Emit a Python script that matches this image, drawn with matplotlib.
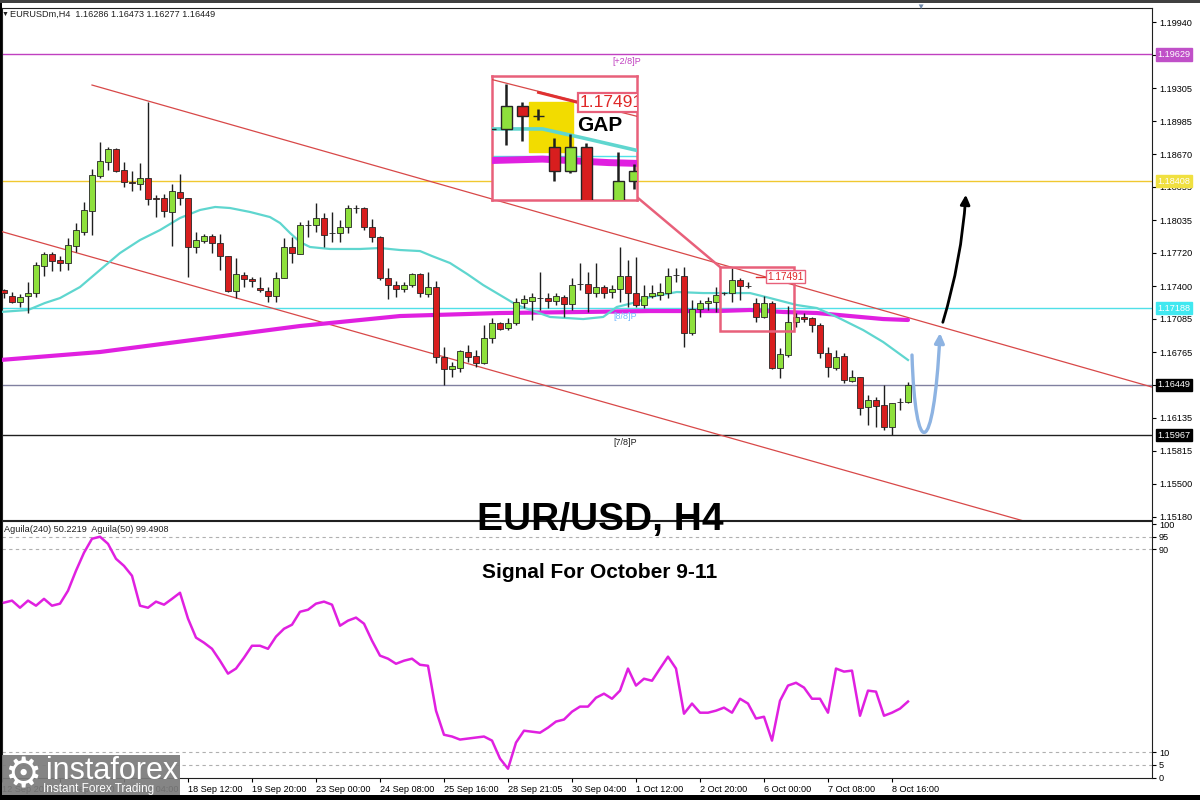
import matplotlib
matplotlib.use('Agg')
import matplotlib.pyplot as plt
from matplotlib.patches import Rectangle, FancyArrowPatch
from matplotlib.path import Path
import numpy as np

plt.rcParams['font.family'] = ['Liberation Sans', 'DejaVu Sans']

# ---------------- data (EURUSD H4 candles) ----------------
opens = [1.17362, 1.17305, 1.17247, 1.17305, 1.17333, 1.17593, 1.17709, 1.17651, 1.17622, 1.17786,
         1.17920, 1.18122, 1.18459, 1.18594, 1.18719, 1.18517, 1.18401, 1.18382, 1.18440, 1.18247,
         1.18247, 1.18113, 1.18305, 1.18247, 1.17776, 1.17834, 1.17882, 1.17814, 1.17689, 1.17353,
         1.17507, 1.17468, 1.17381, 1.17353, 1.17305, 1.17478, 1.17776, 1.17709, 1.17985, 1.17988,
         1.18055, 1.17914, 1.17911, 1.17968, 1.18151, 1.18151, 1.17968, 1.17872, 1.17478, 1.17410,
         1.17372, 1.17410, 1.17516, 1.17324, 1.17391, 1.16718, 1.16602, 1.16612, 1.16766, 1.16727,
         1.16660, 1.16900, 1.17045, 1.16997, 1.17045, 1.17237, 1.17256, 1.17283, 1.17285, 1.17256,
         1.17295, 1.17228, 1.17418, 1.17420, 1.17333, 1.17391, 1.17343, 1.17372, 1.17497, 1.17333,
         1.17218, 1.17305, 1.17314, 1.17333, 1.17505, 1.17497, 1.16949, 1.17179, 1.17237, 1.17247,
         1.17331, 1.17333, 1.17458, 1.17401, 1.17237, 1.17103, 1.17237, 1.16612, 1.16737, 1.17054,
         1.17103, 1.17093, 1.17026, 1.16756, 1.16612, 1.16727, 1.16487, 1.16525, 1.16237, 1.16304,
         1.16256, 1.16044, 1.16282, 1.16286]
highs = [1.17372, 1.17343, 1.17324, 1.17439, 1.17632, 1.17728, 1.17728, 1.17689, 1.17862, 1.18007,
         1.18209, 1.18526, 1.18786, 1.18738, 1.18728, 1.18594, 1.18507, 1.18584, 1.19171, 1.18276,
         1.18286, 1.18382, 1.18478, 1.18250, 1.17920, 1.17901, 1.17901, 1.17901, 1.17692, 1.17670,
         1.17535, 1.17487, 1.17487, 1.17391, 1.17535, 1.17862, 1.17872, 1.18016, 1.18036, 1.18199,
         1.18103, 1.18113, 1.18036, 1.18180, 1.18180, 1.18160, 1.18045, 1.17880, 1.17574, 1.17449,
         1.17439, 1.17526, 1.17526, 1.17535, 1.17449, 1.16814, 1.16670, 1.16785, 1.16833, 1.16785,
         1.17026, 1.17093, 1.17054, 1.17093, 1.17285, 1.17314, 1.17333, 1.17535, 1.17333, 1.17333,
         1.17314, 1.17478, 1.17622, 1.17535, 1.17622, 1.17410, 1.17410, 1.17776, 1.17651, 1.17680,
         1.17410, 1.17410, 1.17430, 1.17574, 1.17574, 1.17584, 1.17266, 1.17266, 1.17295, 1.17391,
         1.17343, 1.17574, 1.17478, 1.17439, 1.17285, 1.17305, 1.17256, 1.16804, 1.17208, 1.17141,
         1.17141, 1.17103, 1.17045, 1.16814, 1.16785, 1.16756, 1.16593, 1.16530, 1.16352, 1.16333,
         1.16448, 1.16280, 1.16323, 1.16473]
lows = [1.17285, 1.17237, 1.17199, 1.17141, 1.17295, 1.17497, 1.17545, 1.17545, 1.17555, 1.17728,
        1.17891, 1.17891, 1.18440, 1.18517, 1.18497, 1.18353, 1.18315, 1.18324, 1.18180, 1.18064,
        1.18064, 1.17786, 1.18180, 1.17487, 1.17718, 1.17814, 1.17718, 1.17555, 1.17343, 1.17285,
        1.17391, 1.17391, 1.17343, 1.17247, 1.17247, 1.17475, 1.17622, 1.17705, 1.17872, 1.17920,
        1.17776, 1.17824, 1.17824, 1.17911, 1.18103, 1.17939, 1.17824, 1.17458, 1.17276, 1.17295,
        1.17343, 1.17391, 1.17295, 1.17295, 1.16660, 1.16448, 1.16525, 1.16573, 1.16670, 1.16622,
        1.16655, 1.16852, 1.16977, 1.16977, 1.17026, 1.17189, 1.17074, 1.17170, 1.17189, 1.17218,
        1.17103, 1.17170, 1.17362, 1.17151, 1.17295, 1.17285, 1.17285, 1.17247, 1.17199, 1.17199,
        1.17189, 1.17285, 1.17266, 1.17285, 1.17439, 1.16814, 1.16929, 1.17103, 1.17170, 1.17151,
        1.17314, 1.17247, 1.17266, 1.17381, 1.17054, 1.17093, 1.16605, 1.16516, 1.16718, 1.17006,
        1.17054, 1.16958, 1.16708, 1.16525, 1.16593, 1.16468, 1.16477, 1.16160, 1.16064, 1.16044,
        1.16015, 1.15967, 1.16208, 1.16277]
closes = [1.17333, 1.17247, 1.17295, 1.17333, 1.17603, 1.17709, 1.17641, 1.17622, 1.17795, 1.17939,
          1.18132, 1.18469, 1.18603, 1.18719, 1.18507, 1.18401, 1.18392, 1.18440, 1.18238, 1.18238,
          1.18122, 1.18315, 1.18247, 1.17776, 1.17843, 1.17882, 1.17814, 1.17689, 1.17353, 1.17516,
          1.17468, 1.17449, 1.17362, 1.17305, 1.17478, 1.17776, 1.17718, 1.17988, 1.17990, 1.18055,
          1.17891, 1.17908, 1.17968, 1.18151, 1.18155, 1.17968, 1.17872, 1.17478, 1.17410, 1.17372,
          1.17410, 1.17516, 1.17333, 1.17391, 1.16718, 1.16602, 1.16631, 1.16775, 1.16718, 1.16660,
          1.16900, 1.17045, 1.16987, 1.17045, 1.17247, 1.17276, 1.17295, 1.17288, 1.17256, 1.17305,
          1.17228, 1.17410, 1.17422, 1.17333, 1.17391, 1.17333, 1.17372, 1.17497, 1.17333, 1.17218,
          1.17305, 1.17333, 1.17343, 1.17497, 1.17509, 1.16949, 1.17179, 1.17237, 1.17256, 1.17314,
          1.17335, 1.17458, 1.17401, 1.17404, 1.17103, 1.17237, 1.16612, 1.16747, 1.17054, 1.17103,
          1.17083, 1.17026, 1.16756, 1.16622, 1.16718, 1.16496, 1.16525, 1.16227, 1.16304, 1.16246,
          1.16044, 1.16275, 1.16286, 1.16449]

# moving averages (bar index, price)
ma_fast_idx = [-0.5, 3, 5.1, 7, 9.5, 12, 14.5, 17, 19.5, 22, 24.5, 26.4, 28.25, 30.75, 33.25, 34.5,
               35.75, 37, 38.25, 40.75, 44.5, 47, 49.5, 52, 53.5, 55.75, 57.9, 59.9, 64.1, 68.25,
               72.4, 74.9, 76.6, 79.1, 80.75, 84.1, 87.4, 89.9, 93.25, 95.75, 99.1, 101.6, 104.1,
               107.4, 109.9, 113]
ma_fast_val = [1.17151, 1.17170, 1.17237, 1.17285, 1.17391, 1.17555, 1.17718, 1.17843, 1.17939,
               1.18055, 1.18132, 1.18161, 1.18151, 1.18113, 1.18064, 1.18007, 1.17911, 1.17824,
               1.17776, 1.17757, 1.17757, 1.17766, 1.17747, 1.17737, 1.17689, 1.17622, 1.17516,
               1.17410, 1.17218, 1.17103, 1.17083, 1.17103, 1.17199, 1.17247, 1.17295, 1.17343,
               1.17333, 1.17333, 1.17333, 1.17285, 1.17218, 1.17189, 1.17103, 1.16977, 1.16862,
               1.16689]
ma_slow_idx = [-0.5, 12, 24.5, 37, 49.5, 62, 72.4, 80.75, 89.1, 93.25, 97.4, 101.6, 105.75, 109.9, 113]
ma_slow_val = [1.16689, 1.16766, 1.16891, 1.17016, 1.17112, 1.17141, 1.17151, 1.17160, 1.17160,
               1.17170, 1.17151, 1.17141, 1.17112, 1.17083, 1.17074]

# Aguila(50) oscillator
aguila = [69.0, 69.8, 67.0, 69.8, 67.8, 70.5, 67.8, 68.6, 73.7, 81.6, 88.7, 94.2, 95.0, 92.2, 86.3,
          83.5, 79.6, 67.8, 67.0, 69.4, 68.2, 70.5, 72.9, 62.7, 55.2, 53.2, 50.8, 46.1, 41.0, 43.0,
          47.3, 52.0, 52.0, 50.8, 55.6, 58.7, 60.3, 65.4, 66.2, 68.6, 69.4, 68.2, 59.9, 61.9, 63.1,
          60.7, 54.0, 48.1, 46.9, 44.9, 46.1, 46.9, 44.5, 44.1, 26.4, 16.9, 16.2, 15.0, 15.4, 15.8,
          16.2, 14.6, 7.5, 3.5, 13.8, 18.5, 18.1, 17.7, 19.7, 22.1, 22.9, 26.0, 28.0, 28.0, 31.5,
          33.1, 31.1, 34.3, 43.0, 36.3, 39.0, 38.2, 43.0, 47.7, 43.0, 25.2, 29.2, 25.6, 25.6, 26.4,
          27.6, 25.6, 31.1, 29.2, 23.3, 24.0, 14.6, 30.3, 36.3, 37.4, 35.5, 31.1, 31.1, 25.6, 43.0,
          41.8, 42.2, 24.4, 34.3, 33.9, 24.4, 25.6, 27.2, 30.0]

# Murrey levels and other horizontal levels
lvl_p2 = 1.19629
lvl_p1 = 1.18408
lvl_88 = 1.17188
lvl_last = 1.16449
lvl_78 = 1.15967
label_price = 1.17491

price_ticks = [1.19940, 1.19625, 1.19305, 1.18985, 1.18670, 1.18355, 1.18035, 1.17720, 1.17400,
               1.17085, 1.16765, 1.16450, 1.16135, 1.15815, 1.15500, 1.15180]
time_tick_idx = [-0.25, 7, 15, 23, 31, 39, 47, 55, 63, 71, 79, 87, 95, 103, 111]
time_tick_lbl = ['12 Sep 2025', '15 Sep 20:00', '17 Sep 04:00', '18 Sep 12:00', '19 Sep 20:00',
                 '23 Sep 00:00', '24 Sep 08:00', '25 Sep 16:00', '28 Sep 21:05', '30 Sep 04:00',
                 '1 Oct 12:00', '2 Oct 20:00', '6 Oct 00:00', '7 Oct 08:00', '8 Oct 16:00']
osc_ticks = [0, 5, 10, 90, 95, 100]

# channel trend lines (bar index, price)
chan_up = ([11, 143.5], [1.19334, 1.16429])
chan_dn = ([-0.5, 143.5], [1.17929, 1.14791])

# ---------------- styling ----------------
GREEN = '#8ee03c'
RED = '#d81e1e'
CYAN_MA = '#5fd6cf'
MAG = '#e020e0'
PINK = '#e8607a'
TXT = 6.6

fig = plt.figure(figsize=(12, 8), dpi=100)
fig.patch.set_facecolor('white')

ax = fig.add_axes([2/1200, 280/800, 1150/1200, 512/800])
axo = fig.add_axes([2/1200, 22.4/800, 1150/1200, 256.6/800])

o = np.array(opens); h = np.array(highs); l = np.array(lows); c = np.array(closes)
x = np.arange(len(o))


def draw_candles(a, wick_lw=1.0, edge_lw=0.6):
    up = c >= o
    cols = np.where(up, GREEN, RED)
    a.vlines(x, l, h, color='#1e1e1e', lw=wick_lw, zorder=4)
    bottoms = np.minimum(o, c)
    heights = np.maximum(np.abs(c - o), 0.00002)
    a.bar(x, heights, bottom=bottoms, width=0.72, color=cols, edgecolor='#252525',
          linewidth=edge_lw, zorder=5)


def draw_levels(a):
    a.axhline(lvl_p2, color='#c040c0', lw=1.0, zorder=2)
    a.axhline(lvl_p1, color='#f0c830', lw=1.0, zorder=2)
    a.axhline(lvl_88, color='#50e0e8', lw=1.0, zorder=2)
    a.axhline(lvl_last, color='#8080a0', lw=1.0, zorder=2)
    a.axhline(lvl_78, color='#202020', lw=1.0, zorder=2)
    a.plot(*chan_up, color='#d84848', lw=0.9, zorder=3)
    a.plot(*chan_dn, color='#d84848', lw=0.9, zorder=3)


# ---------------- main price panel ----------------
draw_levels(ax)
ax.plot(ma_slow_idx, ma_slow_val, color=MAG, lw=3.0, zorder=3, solid_capstyle='round')
ax.plot(ma_fast_idx, ma_fast_val, color=CYAN_MA, lw=1.6, zorder=3)
draw_candles(ax)
ax.set_xlim(-0.25, 143.5)
ax.set_ylim(1.15150, 1.20075)
ax.set_xticks([])
ax.yaxis.tick_right()
ax.set_yticks(price_ticks)
ax.set_yticklabels(['%.5f' % v for v in price_ticks])
ax.tick_params(axis='y', direction='out', length=3, width=0.8, pad=2, labelsize=TXT)
for s in ax.spines.values():
    s.set_linewidth(0.8)
    s.set_color('#202020')

# level texts
ax.text(76, 1.19565, '[+2/8]P', color='#c040c0', fontsize=6.5, ha='left', va='center')
ax.text(76.2, 1.17112, '[8/8]P', color='#70b8ff', fontsize=6.5, ha='left', va='center', zorder=6)
ax.text(76.2, 1.15895, '[7/8]P', color='#202020', fontsize=6.5, ha='left', va='center')

# right price boxes
ytr = ax.get_yaxis_transform()
for val, fc, tc in [(lvl_p2, '#c050c8', 'white'), (lvl_p1, '#f0e040', 'white'),
                    (lvl_88, '#40e8f0', 'white'), (lvl_last, '#000000', 'white'),
                    (lvl_78, '#000000', 'white')]:
    ax.text(1.0045, val, '%.5f' % val, transform=ytr, ha='left', va='center', fontsize=TXT,
            color=tc, clip_on=False, zorder=10,
            bbox=dict(boxstyle='square,pad=0.18', fc=fc, ec=fc))

# pink box + price label
ax.add_patch(Rectangle((89.5, 1.16968), 9.25, 1.17584 - 1.16968, fill=False, ec=PINK, lw=1.8, zorder=7))
ax.plot([94.0, 95.3], [label_price, label_price], color='#e03030', lw=1.0, zorder=7)
ax.text(95.4, label_price, '%.5f' % label_price, color='#e02828', fontsize=7.2, ha='left',
        va='center', zorder=8, bbox=dict(boxstyle='square,pad=0.15', fc='white', ec=PINK, lw=1.0))
ax.plot([79.1, 89.5], [1.18257, 1.17584], color=PINK, lw=1.8, zorder=7)

# forecast arrows
blk = FancyArrowPatch((117.25, 1.17026), (120.25, 1.18305), connectionstyle='arc3,rad=0.06',
                      arrowstyle='-|>', mutation_scale=14, lw=2.0, color='black', zorder=9)
ax.add_patch(blk)
bpath = Path([(113.5, 1.16737), (113.9, 1.15716), (116.2, 1.15716), (117.0, 1.16949)],
             [Path.MOVETO, Path.CURVE4, Path.CURVE4, Path.CURVE4])
blu = FancyArrowPatch(path=bpath, arrowstyle='-|>', mutation_scale=14, lw=2.4,
                      color='#8db3e2', zorder=9, transform=ax.transData)
ax.add_patch(blu)

# ---------------- inset (zoom of GAP area) ----------------
axi = fig.add_axes([492/1200, 600/800, 145/1200, 124/800])
axi.set_facecolor('white')
draw_levels(axi)
axi.add_patch(Rectangle((92.43, 1.17210), 2.71, 0.0027, color='#f2dc00', zorder=2.5))
axi.plot(ma_slow_idx, ma_slow_val, color=MAG, lw=5, zorder=3)
axi.plot(ma_fast_idx, ma_fast_val, color=CYAN_MA, lw=2.6, zorder=3)
draw_candles(axi, wick_lw=1.8, edge_lw=1.0)
axi.plot([93.0, 95.5], [1.17530, 1.17475], color='#e03030', lw=2.0, zorder=7)
axi.text(95.6, 1.17475, '%.5f' % label_price, color='#e02828', fontsize=12.5, ha='left',
         va='center', zorder=8, clip_on=True,
         bbox=dict(boxstyle='square,pad=0.12', fc='white', ec=PINK, lw=1.6))
axi.text(96.85, 1.17349, 'GAP', fontsize=15, fontweight='bold', ha='center', va='center',
         color='black', zorder=9)
axi.set_xlim(90.1, 99.16)
axi.set_ylim(1.16949, 1.17619)
axi.set_xticks([]); axi.set_yticks([])
for s in axi.spines.values():
    s.set_color(PINK)
    s.set_linewidth(1.8)

# ---------------- oscillator panel ----------------
for lv in [95, 90, 10, 5]:
    axo.axhline(lv, color='#b0b0b0', lw=0.8, ls=(0, (3, 3)), zorder=1)
axo.plot(x, aguila, color=MAG, lw=1.8, zorder=3)
axo.set_xlim(-0.25, 143.5)
axo.set_ylim(0, 101.2)
axo.yaxis.tick_right()
axo.set_yticks(osc_ticks)
axo.set_yticklabels([str(v) for v in osc_ticks])
axo.tick_params(axis='y', direction='out', length=3, width=0.8, pad=2, labelsize=TXT)
axo.set_xticks(time_tick_idx)
axo.set_xticklabels(time_tick_lbl)
for t in axo.get_xticklabels():
    t.set_ha('left')
axo.tick_params(axis='x', direction='out', length=3, width=0.8, pad=2, labelsize=TXT)
for s in axo.spines.values():
    s.set_linewidth(0.8)
    s.set_color('#202020')
axo.text(0.002, 0.985, 'Aguila(240) 50.2219  Aguila(50) 99.4908', transform=axo.transAxes,
         fontsize=TXT, ha='left', va='top', color='#202020')

# ---------------- header / titles ----------------
fig.text(2/1200, 1 - 14/800, '\u25bc', fontsize=5, color='#202020', ha='left', va='center')
fig.text(10/1200, 1 - 14/800, 'EURUSDm,H4  1.16286 1.16473 1.16277 1.16449', fontsize=TXT,
         ha='left', va='center', color='#202020')
fig.text(920/1200, 1 - 7/800, '\u25bc', fontsize=6, color='#7088a8', ha='center', va='center')
fig.text(0.5, 1 - 520/800, 'EUR/USD, H4', fontsize=28, fontweight='bold', ha='center',
         va='center', color='black', zorder=20)
fig.text(0.5, 1 - 572/800, 'Signal For October 9-11', fontsize=15, fontweight='bold',
         ha='center', va='center', color='black', zorder=20)

# logo
fig.add_artist(Rectangle((0, 3/800), 180/1200, 42/800, transform=fig.transFigure,
                         fc='#7b7b7b', ec='none', alpha=0.92, zorder=30))
fig.text(23/1200, 1 - 776/800, '\u2699', fontsize=30, color='white', ha='center', va='center',
         zorder=31)
fig.text(112/1200, 1 - 771/800, 'instaforex', fontsize=22, color='white', ha='center',
         va='center', zorder=31)
fig.text(99/1200, 1 - 789/800, 'Instant Forex Trading', fontsize=8.5, color='white',
         ha='center', va='center', zorder=31)

# outer frame
fig.add_artist(Rectangle((0, 0), 2/1200, 1, transform=fig.transFigure, fc='black', ec='none', zorder=40))
fig.add_artist(Rectangle((0, 0), 1, 5/800, transform=fig.transFigure, fc='black', ec='none', zorder=40))
fig.add_artist(Rectangle((0, 1 - 3/800), 1, 3/800, transform=fig.transFigure, fc='#404040', ec='none', zorder=40))

fig.savefig('out.png', dpi=100)
